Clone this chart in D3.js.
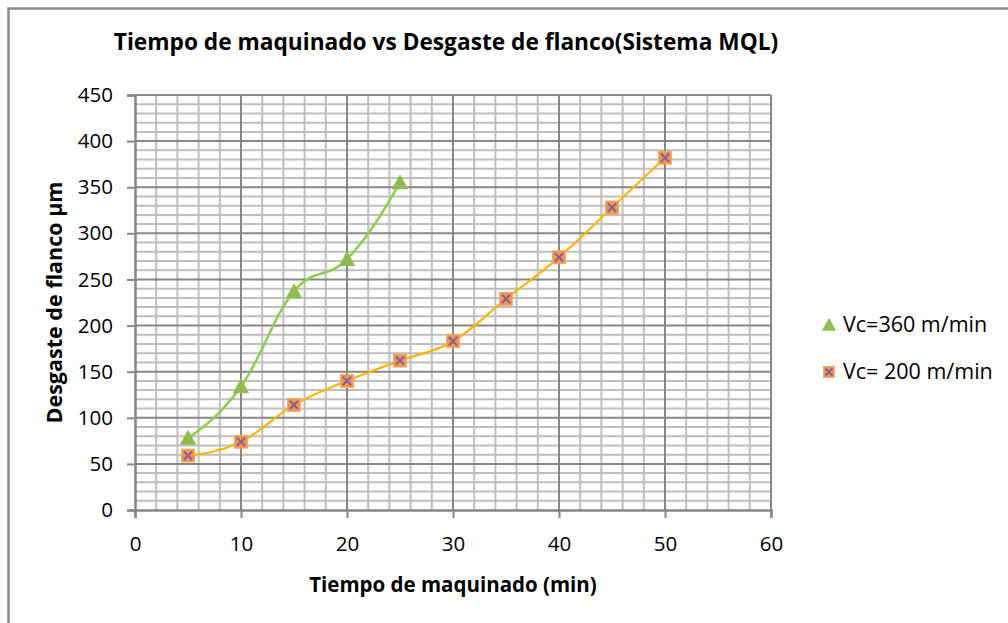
<!DOCTYPE html>
<html>
<head>
<meta charset="utf-8">
<script src="https://cdn.jsdelivr.net/npm/d3@7"></script>
<style>
  body { margin: 0; background: #fff; }
  svg { font-family: "Open Sans", sans-serif; }
</style>
</head>
<body>
<div id="chart"></div>
<script>
// data
var tiempo360 = [5, 10, 15, 20, 25];
var desgaste360 = [78, 134, 237, 272, 355];
var tiempo200 = [5, 10, 15, 20, 25, 30, 35, 40, 45, 50];
var desgaste200 = [59, 74, 114, 140, 162, 183, 229, 274, 328, 382];
var xTicks = [0, 10, 20, 30, 40, 50, 60];
var yTicks = [0, 50, 100, 150, 200, 250, 300, 350, 400, 450];
var seriesNames = ["Vc=360 m/min", "Vc= 200 m/min"];

var width = 1008, height = 623;
var margin = {top: 95, right: 237, bottom: 113, left: 135};
var w = width - margin.left - margin.right,
    h = height - margin.top - margin.bottom;

const svg = d3.select("#chart")
    .append("svg")
    .attr("width", width)
    .attr("height", height);

// outer frame (only left and top visible)
svg.append("path")
    .attr("d", "M8.5,623 L8.5,8.5 L1008,8.5")
    .attr("fill", "none")
    .attr("stroke", "#8a8a8a")
    .attr("stroke-width", 2.5);

const g = svg.append("g")
    .attr("transform", `translate(${margin.left},${margin.top})`);

const xScale = d3.scaleLinear().domain([0, 60]).range([0, w]);
const yScale = d3.scaleLinear().domain([0, 450]).range([h, 0]);

// minor grid
g.append("g").selectAll("line")
    .data(d3.range(2, 60, 2).filter(d => d % 10 != 0))
    .join("line")
    .attr("x1", d => xScale(d)).attr("x2", d => xScale(d))
    .attr("y1", 0).attr("y2", h)
    .attr("stroke", "#bfbfbf").attr("stroke-width", 2);

g.append("g").selectAll("line")
    .data(d3.range(10, 450, 10).filter(d => d % 50 != 0))
    .join("line")
    .attr("x1", 0).attr("x2", w)
    .attr("y1", d => yScale(d)).attr("y2", d => yScale(d))
    .attr("stroke", "#bfbfbf").attr("stroke-width", 2);

// major grid
g.append("g").selectAll("line")
    .data(xTicks.slice(1))
    .join("line")
    .attr("x1", d => xScale(d)).attr("x2", d => xScale(d))
    .attr("y1", 0).attr("y2", h)
    .attr("stroke", "#878787").attr("stroke-width", 2);

g.append("g").selectAll("line")
    .data(yTicks.slice(1))
    .join("line")
    .attr("x1", 0).attr("x2", w)
    .attr("y1", d => yScale(d)).attr("y2", d => yScale(d))
    .attr("stroke", "#878787").attr("stroke-width", 2);

// axes
const xAxis = d3.axisBottom(xScale).tickValues(xTicks).tickSize(8).tickPadding(18);
const yAxis = d3.axisLeft(yScale).tickValues(yTicks).tickSize(8).tickPadding(14);

const xAxisGroup = g.append("g")
    .attr("transform", `translate(0, ${h})`)
    .call(xAxis);
const yAxisGroup = g.append("g")
    .call(yAxis);

[xAxisGroup, yAxisGroup].forEach(ax => {
    ax.select(".domain").attr("stroke", "#878787").attr("stroke-width", 2.5);
    ax.selectAll(".tick line").attr("stroke", "#878787").attr("stroke-width", 2);
    ax.selectAll(".tick text").attr("font-size", 20.5).attr("fill", "#000")
        .attr("font-family", "'Open Sans', sans-serif");
});

// smoothed line like the spreadsheet one: bezier pieces with
// catmull-rom-ish tangents inside and "natural" tangents at both ends
function smoothPath(pts) {
    var p = pts.map(d => [xScale(d[0]), yScale(d[1])]);
    var n = p.length, k = 0.2;
    var t = p.map((d, i) => {
        if (i == 0 || i == n - 1) return null;
        return [(p[i+1][0] - p[i-1][0]) * k, (p[i+1][1] - p[i-1][1]) * k];
    });
    t[0] = [(p[1][0] - p[0][0]) / 2 - t[1][0] / 2, (p[1][1] - p[0][1]) / 2 - t[1][1] / 2];
    t[n-1] = [(p[n-1][0] - p[n-2][0]) / 2 - t[n-2][0] / 2, (p[n-1][1] - p[n-2][1]) / 2 - t[n-2][1] / 2];
    var path = d3.path();
    path.moveTo(p[0][0], p[0][1]);
    for (var i = 0; i < n - 1; i++) {
        path.bezierCurveTo(p[i][0] + t[i][0], p[i][1] + t[i][1],
            p[i+1][0] - t[i+1][0], p[i+1][1] - t[i+1][1],
            p[i+1][0], p[i+1][1]);
    }
    return path.toString();
}

const pts360 = tiempo360.map((t, i) => [t, desgaste360[i]]);
const pts200 = tiempo200.map((t, i) => [t, desgaste200[i]]);

g.append("path")
    .datum(pts200)
    .attr("fill", "none")
    .attr("stroke", "#ffb400")
    .attr("stroke-width", 2.2)
    .attr("d", smoothPath);

g.append("path")
    .datum(pts360)
    .attr("fill", "none")
    .attr("stroke", "#8ccf4a")
    .attr("stroke-width", 2.5)
    .attr("d", smoothPath);

// markers
function squareX(sel, s) {
    sel.append("rect")
        .attr("x", -s / 2).attr("y", -s / 2)
        .attr("width", s).attr("height", s)
        .attr("fill", "#f79646").attr("stroke", "#f9a56a").attr("stroke-width", 0.8);
    sel.append("path")
        .attr("d", `M${-s*0.32},${-s*0.32}L${s*0.32},${s*0.32}M${s*0.32},${-s*0.32}L${-s*0.32},${s*0.32}`)
        .attr("stroke", "#7b62a8").attr("stroke-width", 2);
}

function triangle(sel, s) {
    sel.append("path")
        .attr("d", `M0,${-s*0.55}L${s*0.55},${s*0.45}L${-s*0.55},${s*0.45}Z`)
        .attr("fill", "#8fbc4f");
}

g.append("g").selectAll("g")
    .data(pts200)
    .join("g")
    .attr("transform", d => `translate(${xScale(d[0])},${yScale(d[1])})`)
    .each(function() { squareX(d3.select(this), 13); });

g.append("g").selectAll("g")
    .data(pts360)
    .join("g")
    .attr("transform", d => `translate(${xScale(d[0])},${yScale(d[1])})`)
    .each(function() { triangle(d3.select(this), 15); });

// title
svg.append("text")
    .attr("x", 446)
    .attr("y", 50)
    .attr("text-anchor", "middle")
    .attr("font-size", 22.7)
    .attr("font-weight", "bold")
    .text("Tiempo de maquinado vs Desgaste de flanco(Sistema MQL)");

// axis labels
svg.append("text")
    .attr("x", margin.left + w / 2)
    .attr("y", 592)
    .attr("text-anchor", "middle")
    .attr("font-size", 20.5)
    .attr("font-weight", "bold")
    .text("Tiempo de maquinado (min)");

svg.append("text")
    .attr("transform", `translate(62, ${margin.top + h / 2}) rotate(-90)`)
    .attr("text-anchor", "middle")
    .attr("font-size", 21.5)
    .attr("font-weight", "bold")
    .text("Desgaste de flanco µm");

// legend
const legend = svg.append("g");
const lg1 = legend.append("g").attr("transform", "translate(829,325)");
triangle(lg1, 13);
legend.append("text").attr("x", 843).attr("y", 332)
    .attr("font-size", 21.5).text(seriesNames[0]);

const lg2 = legend.append("g").attr("transform", "translate(829,372)");
squareX(lg2, 11);
legend.append("text").attr("x", 843).attr("y", 379)
    .attr("font-size", 21.5).text(seriesNames[1]);
</script>
</body>
</html>
